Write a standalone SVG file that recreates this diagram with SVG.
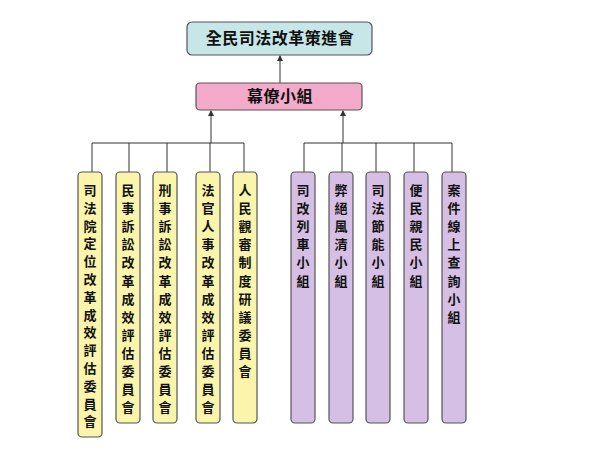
<svg xmlns="http://www.w3.org/2000/svg" width="600" height="450" viewBox="0 0 600 450">
<defs>
<style>
.box{stroke:#555;stroke-width:1.2}
.top{fill:#c6e6e8}
.pink{fill:#f4abc9}
.yel{fill:#faf5aa}
.pur{fill:#d6bfe4}
.t{font-family:"Noto Sans CJK TC","Noto Sans CJK SC",sans-serif;font-weight:bold;fill:#111;text-anchor:middle}
.h{font-size:16px;letter-spacing:0.5px}
.v{font-size:13px}
.c{fill:none;stroke:#333;stroke-width:1}
</style>
<marker id="arr" markerWidth="6" markerHeight="6" refX="5" refY="3" orient="auto" markerUnits="userSpaceOnUse">
<path d="M0,0 L6,3 L0,6 z" fill="#333"/>
</marker>
</defs>
<rect width="600" height="450" fill="#fff"/>
<g id="connectors">
<path class="c" d="M280,83 V56" marker-end="url(#arr)"/>
<path class="c" d="M211,143 V111" marker-end="url(#arr)"/>
<path class="c" d="M343,143 V111" marker-end="url(#arr)"/>
<path class="c" d="M92,172 V143 H244 V172 M129,143 V172 M167,143 V172 M210,143 V172"/>
<path class="c" d="M304,172 V143 H452 V172 M342,143 V172 M376,143 V172 M414,143 V172"/>
</g>
<g id="n-top">
<rect class="box top" x="187" y="22" width="185" height="33" rx="5"/>
<text class="t h" x="280" y="44">全民司法改革策進會</text>
</g>
<g id="n-staff">
<rect class="box pink" x="196" y="83" width="166" height="27" rx="4"/>
<text class="t h" x="280" y="102">幕僚小組</text>
</g>
<g id="n-l1">
<rect class="box yel" x="78" y="172" width="24" height="265" rx="4"/>
<text class="t v"><tspan x="90" y="195">司</tspan><tspan x="90" dy="17.8">法</tspan><tspan x="90" dy="17.8">院</tspan><tspan x="90" dy="17.8">定</tspan><tspan x="90" dy="17.8">位</tspan><tspan x="90" dy="17.8">改</tspan><tspan x="90" dy="17.8">革</tspan><tspan x="90" dy="17.8">成</tspan><tspan x="90" dy="17.8">效</tspan><tspan x="90" dy="17.8">評</tspan><tspan x="90" dy="17.8">估</tspan><tspan x="90" dy="17.8">委</tspan><tspan x="90" dy="17.8">員</tspan><tspan x="90" dy="17.8">會</tspan></text>
</g>
<g id="n-l2">
<rect class="box yel" x="116" y="172" width="24" height="251" rx="4"/>
<text class="t v"><tspan x="128" y="195">民</tspan><tspan x="128" dy="18.1">事</tspan><tspan x="128" dy="18.1">訴</tspan><tspan x="128" dy="18.1">訟</tspan><tspan x="128" dy="18.1">改</tspan><tspan x="128" dy="18.1">革</tspan><tspan x="128" dy="18.1">成</tspan><tspan x="128" dy="18.1">效</tspan><tspan x="128" dy="18.1">評</tspan><tspan x="128" dy="18.1">估</tspan><tspan x="128" dy="18.1">委</tspan><tspan x="128" dy="18.1">員</tspan><tspan x="128" dy="18.1">會</tspan></text>
</g>
<g id="n-l3">
<rect class="box yel" x="153" y="172" width="24" height="251" rx="4"/>
<text class="t v"><tspan x="165" y="195">刑</tspan><tspan x="165" dy="18.1">事</tspan><tspan x="165" dy="18.1">訴</tspan><tspan x="165" dy="18.1">訟</tspan><tspan x="165" dy="18.1">改</tspan><tspan x="165" dy="18.1">革</tspan><tspan x="165" dy="18.1">成</tspan><tspan x="165" dy="18.1">效</tspan><tspan x="165" dy="18.1">評</tspan><tspan x="165" dy="18.1">估</tspan><tspan x="165" dy="18.1">委</tspan><tspan x="165" dy="18.1">員</tspan><tspan x="165" dy="18.1">會</tspan></text>
</g>
<g id="n-l4">
<rect class="box yel" x="196" y="172" width="24" height="251" rx="4"/>
<text class="t v"><tspan x="208" y="195">法</tspan><tspan x="208" dy="18.1">官</tspan><tspan x="208" dy="18.1">人</tspan><tspan x="208" dy="18.1">事</tspan><tspan x="208" dy="18.1">改</tspan><tspan x="208" dy="18.1">革</tspan><tspan x="208" dy="18.1">成</tspan><tspan x="208" dy="18.1">效</tspan><tspan x="208" dy="18.1">評</tspan><tspan x="208" dy="18.1">估</tspan><tspan x="208" dy="18.1">委</tspan><tspan x="208" dy="18.1">員</tspan><tspan x="208" dy="18.1">會</tspan></text>
</g>
<g id="n-l5">
<rect class="box yel" x="233" y="172" width="24" height="251" rx="4"/>
<text class="t v"><tspan x="245" y="195">人</tspan><tspan x="245" dy="18.1">民</tspan><tspan x="245" dy="18.1">觀</tspan><tspan x="245" dy="18.1">審</tspan><tspan x="245" dy="18.1">制</tspan><tspan x="245" dy="18.1">度</tspan><tspan x="245" dy="18.1">研</tspan><tspan x="245" dy="18.1">議</tspan><tspan x="245" dy="18.1">委</tspan><tspan x="245" dy="18.1">員</tspan><tspan x="245" dy="18.1">會</tspan></text>
</g>
<g id="n-r1">
<rect class="box pur" x="291" y="172" width="24" height="251" rx="4"/>
<text class="t v"><tspan x="303" y="195">司</tspan><tspan x="303" dy="18.1">改</tspan><tspan x="303" dy="18.1">列</tspan><tspan x="303" dy="18.1">車</tspan><tspan x="303" dy="18.1">小</tspan><tspan x="303" dy="18.1">組</tspan></text>
</g>
<g id="n-r2">
<rect class="box pur" x="329" y="172" width="24" height="251" rx="4"/>
<text class="t v"><tspan x="341" y="195">弊</tspan><tspan x="341" dy="18.1">絕</tspan><tspan x="341" dy="18.1">風</tspan><tspan x="341" dy="18.1">清</tspan><tspan x="341" dy="18.1">小</tspan><tspan x="341" dy="18.1">組</tspan></text>
</g>
<g id="n-r3">
<rect class="box pur" x="366" y="172" width="24" height="251" rx="4"/>
<text class="t v"><tspan x="378" y="195">司</tspan><tspan x="378" dy="18.1">法</tspan><tspan x="378" dy="18.1">節</tspan><tspan x="378" dy="18.1">能</tspan><tspan x="378" dy="18.1">小</tspan><tspan x="378" dy="18.1">組</tspan></text>
</g>
<g id="n-r4">
<rect class="box pur" x="404" y="172" width="24" height="251" rx="4"/>
<text class="t v"><tspan x="416" y="195">便</tspan><tspan x="416" dy="18.1">民</tspan><tspan x="416" dy="18.1">親</tspan><tspan x="416" dy="18.1">民</tspan><tspan x="416" dy="18.1">小</tspan><tspan x="416" dy="18.1">組</tspan></text>
</g>
<g id="n-r5">
<rect class="box pur" x="442" y="172" width="24" height="251" rx="4"/>
<text class="t v"><tspan x="454" y="195">案</tspan><tspan x="454" dy="18.1">件</tspan><tspan x="454" dy="18.1">線</tspan><tspan x="454" dy="18.1">上</tspan><tspan x="454" dy="18.1">查</tspan><tspan x="454" dy="18.1">詢</tspan><tspan x="454" dy="18.1">小</tspan><tspan x="454" dy="18.1">組</tspan></text>
</g>
</svg>
